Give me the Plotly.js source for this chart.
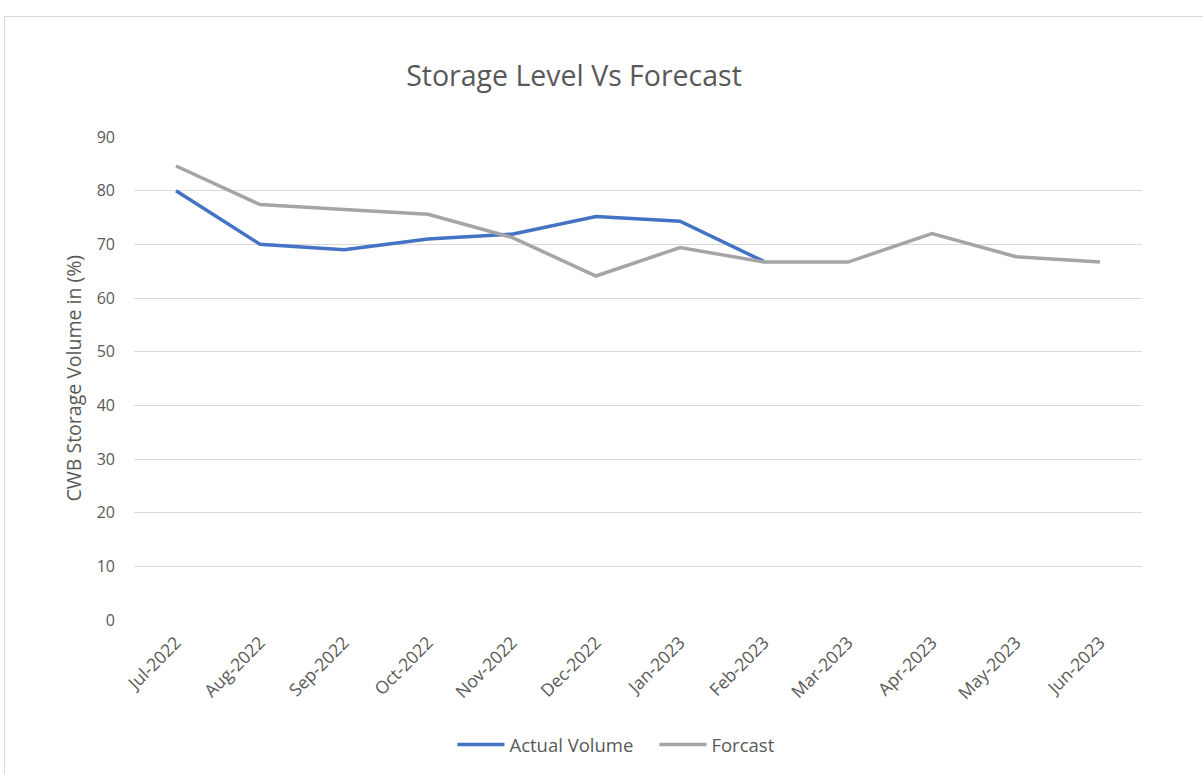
<!DOCTYPE html>
<html>
<head>
<meta charset="utf-8">
<script src="https://cdn.plot.ly/plotly-3.0.1.min.js"></script>
<style>
  html, body { margin: 0; padding: 0; background: #fff; overflow: hidden; }
  #frame { position: absolute; left: 4px; top: 16px; width: 1300px; height: 900px;
           border-left: 1px solid #d9d9d9; border-top: 1px solid #d9d9d9; }
  #chart { position: absolute; left: 0; top: 0; width: 1203px; height: 774px; }
</style>
</head>
<body>
<div id="frame"></div>
<div id="chart"></div>
<script>
const months = ["Jul-2022","Aug-2022","Sep-2022","Oct-2022","Nov-2022","Dec-2022",
                "Jan-2023","Feb-2023","Mar-2023","Apr-2023","May-2023","Jun-2023"];
const actualVolume = [80.0, 70.0, 69.0, 71.0, 71.9, 75.2, 74.3, 66.8, null, null, null, null];
const forecast = [84.6, 77.4, 76.5, 75.6, 71.3, 64.1, 69.4, 66.7, 66.7, 72.0, 67.7, 66.7];

const font = "Open Sans, Noto Sans, sans-serif";
const grey = "#595959";

const traces = [
  { x: months, y: actualVolume, name: "Actual Volume", type: "scatter", mode: "lines",
    line: { color: "#4472C4", width: 3.5 }, connectgaps: false },
  { x: months, y: forecast, name: "Forcast", type: "scatter", mode: "lines",
    line: { color: "#A5A5A5", width: 3.5 } }
];

const layout = {
  width: 1203, height: 774,
  paper_bgcolor: "rgba(0,0,0,0)", plot_bgcolor: "rgba(0,0,0,0)",
  margin: { l: 134, r: 61, t: 137, b: 154 },
  font: { family: font, color: grey, size: 16 },
  title: { text: "Storage Level Vs Forecast", font: { family: font, size: 28.5, color: grey },
           x: 574 / 1203, xanchor: "center", xref: "container",
           y: 1 - 76 / 774, yanchor: "middle", yref: "container" },
  xaxis: { type: "category", range: [-0.5, 11.5], tickangle: -45, showgrid: false, zeroline: false,
           showline: false, ticks: "", ticklabelstandoff: 8, tickfont: { size: 17.5, color: grey } },
  yaxis: { range: [0, 90], dtick: 10, showgrid: true, gridcolor: "#d9d9d9", gridwidth: 1,
           zeroline: false, showline: false, ticks: "", ticklabelstandoff: 18,
           tickfont: { size: 16, color: grey } },
  annotations: [
    { text: "CWB Storage Volume in (%)", textangle: -90, showarrow: false,
      xref: "paper", yref: "paper", x: (73 - 134) / 1008, y: 0.5,
      xanchor: "center", yanchor: "middle", font: { size: 19.5, color: grey } }
  ],
  showlegend: true,
  legend: { orientation: "h", x: 0.544, xanchor: "center", xref: "container",
            y: 1 - 745 / 774, yanchor: "middle", yref: "container",
            font: { size: 18.5, color: grey }, itemwidth: 47, entrywidth: 140,
            entrywidthmode: "pixels", tracegroupgap: 0 },
  hovermode: false
};

Plotly.newPlot("chart", traces, layout, { displayModeBar: false, staticPlot: true });
</script>
</body>
</html>
